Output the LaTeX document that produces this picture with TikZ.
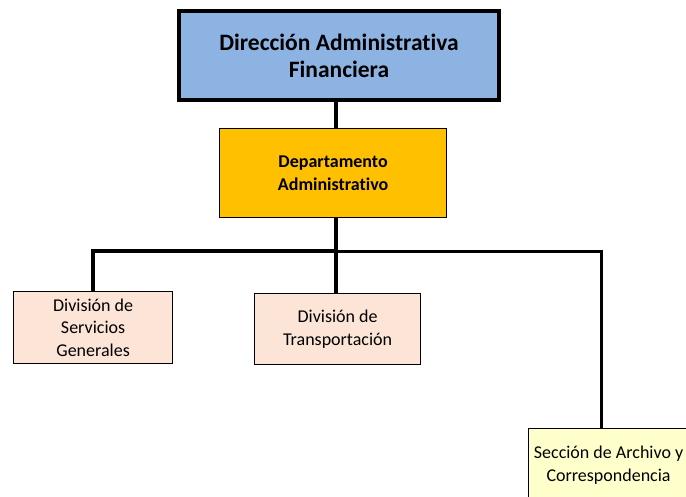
\documentclass[tikz,border=0pt]{standalone}
\usepackage{fontspec}
\setmainfont[Ligatures=NoCommon]{Carlito}
\definecolor{topblue}{HTML}{8DB3E2}
\definecolor{deptgold}{HTML}{FFC000}
\definecolor{peach}{HTML}{FCE4D6}
\definecolor{paleyellow}{HTML}{FFFFCC}
\begin{document}
\begin{tikzpicture}[x=1pt,y=-1pt,
  box/.style={draw=black, line width=1.2pt, align=center, inner sep=0pt, anchor=north west},
  thick line/.style={line width=4pt},
  mid line/.style={line width=3pt}]
\useasboundingbox (0,0) rectangle (686,496);
\clip (0,0) rectangle (686,496);
\coordinate (bl) at (93,251);
\coordinate (bc) at (336,251);
\coordinate (br) at (601,251);
\node[box, line width=4pt, fill=topblue, minimum width=320pt, minimum height=89pt,
  font=\fontsize{23.5}{27}\selectfont\bfseries] (top) at (177,9) {\raisebox{-6pt}{Dirección Administrativa}\\\raisebox{-6pt}{Financiera}};
\node[box, fill=deptgold, minimum width=227pt, minimum height=89pt,
  font=\fontsize{18}{23}\selectfont\bfseries] (dept) at (219,128) {Departamento\\Administrativo};
\node[box, fill=peach, minimum width=159pt, minimum height=72pt,
  font=\fontsize{18}{22.5}\selectfont] (sg) at (13,291) {División de\\Servicios\\Generales};
\node[box, fill=peach, minimum width=166pt, minimum height=71pt,
  font=\fontsize{18}{23}\selectfont] (tr) at (254,293) {División de\\Transportación};
\node[box, fill=paleyellow, minimum width=160pt, minimum height=73pt,
  font=\fontsize{18}{23}\selectfont] (ar) at (528,428) {Sección de Archivo y\\Correspondencia};
\draw[thick line] (top.south -| bc) -- (dept.north -| bc);
\draw[thick line] (dept.south -| bc) -- (bc);
\draw[thick line, line cap=rect] (bc) -- (bl);
\draw[thick line] (bl) -- (sg.north -| bl);
\draw[thick line] (bc) -- (tr.north -| bc);
\draw[mid line] ([xshift=-1pt]bc) -- (br) -- (ar.north -| br);
\end{tikzpicture}
\end{document}
